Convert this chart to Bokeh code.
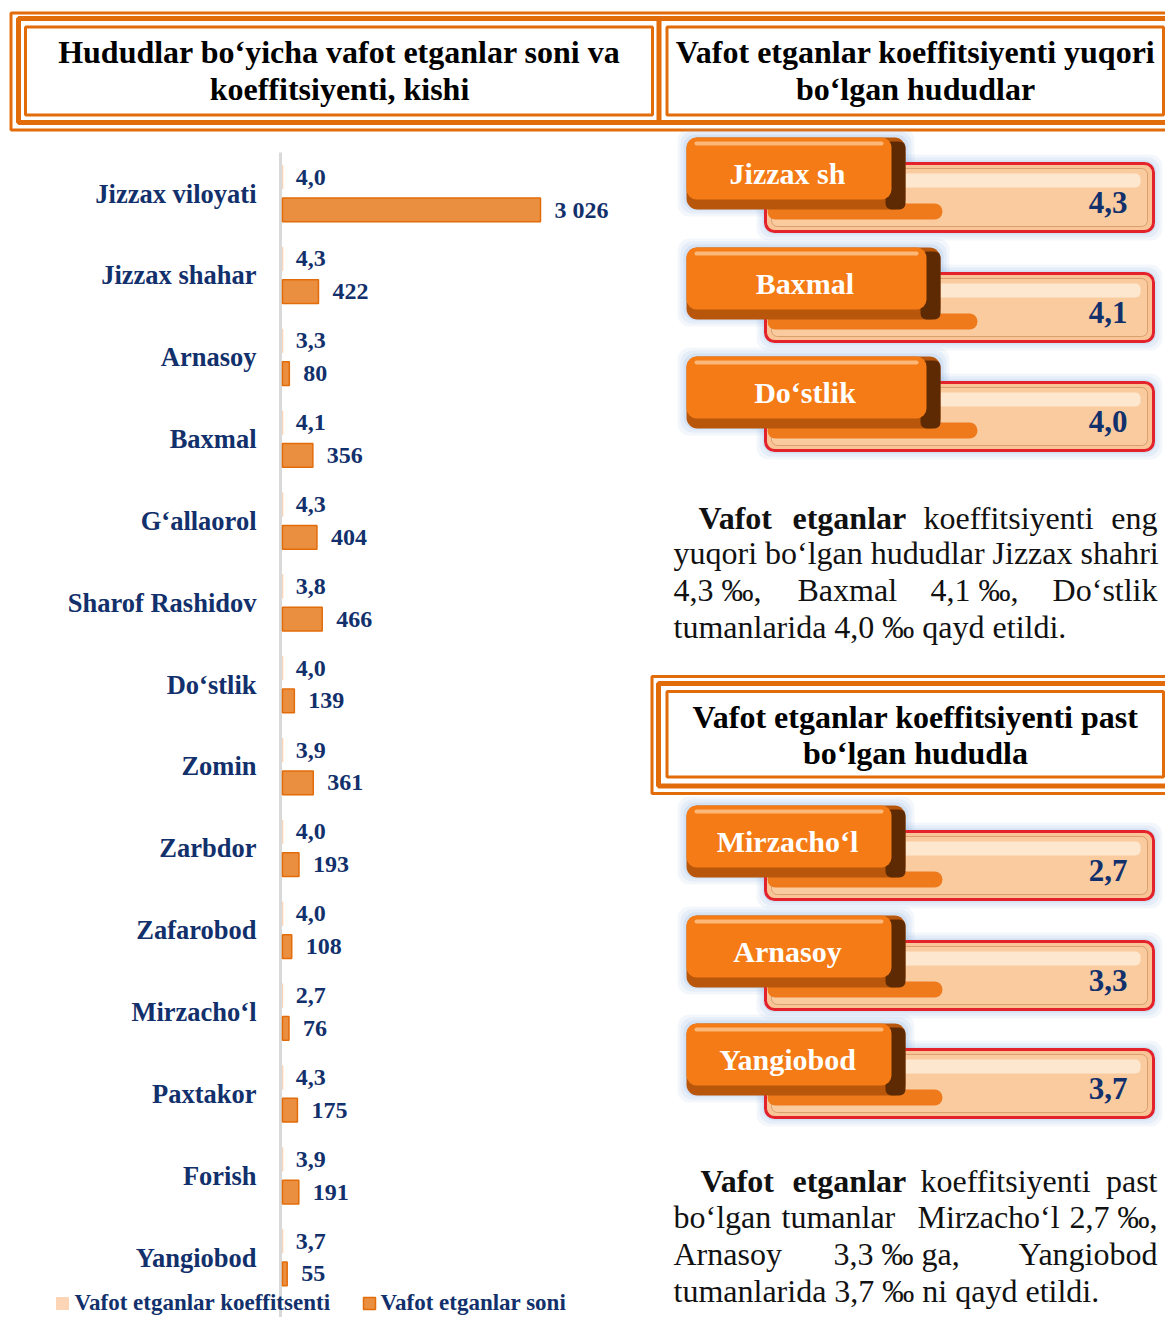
from bokeh.plotting import figure
from bokeh.models import Range1d
from bokeh.core.properties import value
from bokeh.embed import file_html
from bokeh.resources import INLINE

# ---------------- data ----------------
regions = ["Jizzax viloyati", "Jizzax shahar", "Arnasoy", "Baxmal", "G‘allaorol",
           "Sharof Rashidov", "Do‘stlik", "Zomin", "Zarbdor", "Zafarobod",
           "Mirzacho‘l", "Paxtakor", "Forish", "Yangiobod"]
deaths = [3026, 422, 80, 356, 404, 466, 139, 361, 193, 108, 76, 175, 191, 55]
coef = [4.0, 4.3, 3.3, 4.1, 4.3, 3.8, 4.0, 3.9, 4.0, 4.0, 2.7, 4.3, 3.9, 3.7]

high_names = ["Jizzax sh", "Baxmal", "Do‘stlik"]
high_vals = [4.3, 4.1, 4.0]
low_names = ["Mirzacho‘l", "Arnasoy", "Yangiobod"]
low_vals = [2.7, 3.3, 3.7]

legend_labels = ["Vafot etganlar koeffitsenti", "Vafot etganlar soni"]

# ---------------- styles ----------------
SERIF = value("Liberation Serif")
NAVY = "#12306B"
ORANGE = "#E36C0A"
BAR_FILL = "#EA8F40"
COEF_FILL = "#FBD5B5"

def fmt_int(v):
    return f"{v:,}".replace(",", " ")

def fmt_dec(v):
    return f"{v:.1f}".replace(".", ",")

W, H = 1165, 1317
p = figure(width=W, height=H, x_range=Range1d(0, W), y_range=Range1d(H, 0),
           output_backend="svg", toolbar_location=None, min_border=0,
           x_axis_location=None, y_axis_location=None)
p.grid.visible = False
p.outline_line_color = None
p.background_fill_color = "white"
p.border_fill_color = "white"

# bar chart scales (extra ranges)
X0, X1 = 282.0, 540.0
S = (X1 - X0) / max(deaths)
Y0, DY = 193.0, 81.85
p.extra_x_ranges = {"cnt": Range1d((0 - X0) / S, (W - X0) / S)}
p.extra_y_ranges = {"cat": Range1d((H - Y0) / DY, (0 - Y0) / DY)}

idx = list(range(len(regions)))

def txt(x, y, s, size, color="black", bold=True, align="center", **kw):
    p.text(x=[x], y=[y], text=[s], text_font=SERIF,
           text_font_style="bold" if bold else "normal",
           text_font_size=f"{size}px", text_color=color, text_align=align,
           text_baseline="middle", **kw)

# ---------------- header frames ----------------
def frame(l, r, t, b, lw):
    p.quad(left=[l], right=[r], top=[t], bottom=[b], fill_color=None,
           line_color=ORANGE, line_width=lw)

frame(10.5, 1180, 12.5, 129.5, 3)
frame(18, 1180, 18, 122, 5)
p.segment(x0=[658.5], y0=[18], x1=[658.5], y1=[122], line_color=ORANGE, line_width=5)
frame(25, 652, 26.5, 114.5, 3)
frame(666.5, 1163, 26.5, 114.5, 3)

txt(339, 51, "Hududlar bo‘yicha vafot etganlar soni va", 32)
txt(339, 88, "koeffitsiyenti, kishi", 32)
txt(915, 51, "Vafot etganlar koeffitsiyenti yuqori", 32)
txt(915, 88, "bo‘lgan hududlar", 32)

frame(651.5, 1180, 676, 793, 3)
frame(658, 1180, 683, 785.5, 5)
frame(666.5, 1163, 691, 776.5, 3)
txt(915, 716, "Vafot etganlar koeffitsiyenti past", 32)
txt(915, 752, "bo‘lgan hududla", 32)

# ---------------- bar chart ----------------
p.segment(x0=[280], y0=[152], x1=[280], y1=[1317], line_color="#D9D9D9", line_width=3)

p.hbar(y=[i - 0.2 for i in idx], left=0, right=coef, height=0.29,
       fill_color=COEF_FILL, line_color=COEF_FILL,
       x_range_name="cnt", y_range_name="cat")
p.hbar(y=[i + 0.2 for i in idx], left=0, right=deaths, height=0.29,
       fill_color=BAR_FILL, line_color=ORANGE, line_width=1.5,
       x_range_name="cnt", y_range_name="cat")

p.text(x=[256] * len(idx), y=[Y0 + DY * i for i in idx], text=regions,
       text_font=SERIF, text_font_style="bold", text_font_size="26.5px",
       text_color=NAVY, text_align="right", text_baseline="middle")
p.text(x=coef, y=[i - 0.2 for i in idx], text=[fmt_dec(v) for v in coef],
       x_offset=13, text_font=SERIF, text_font_style="bold", text_font_size="24px",
       text_color=NAVY, text_align="left", text_baseline="middle",
       x_range_name="cnt", y_range_name="cat")
p.text(x=deaths, y=[i + 0.2 for i in idx], text=[fmt_int(v) for v in deaths],
       x_offset=14, text_font=SERIF, text_font_style="bold", text_font_size="24px",
       text_color=NAVY, text_align="left", text_baseline="middle",
       x_range_name="cnt", y_range_name="cat")

# legend
p.scatter(x=[62], y=[1303], marker="square", size=12, fill_color=COEF_FILL, line_color=COEF_FILL)
txt(74, 1302, legend_labels[0], 23, NAVY, align="left")
p.scatter(x=[369], y=[1303], marker="square", size=12, fill_color=BAR_FILL, line_color=ORANGE, line_width=1.5)
txt(380, 1302, legend_labels[1], 23, NAVY, align="left")

# ---------------- 3D pills ----------------
def pill(T, tab_right, name, val):
    # glow
    for e, a in [(9, 0.10), (6, 0.14), (3, 0.18)]:
        p.quad(left=[765 - e], right=[1153 + e], top=[T + 26 - e], bottom=[T + 94 + e],
               fill_color="#8DB4E2", fill_alpha=a, line_color=None, border_radius=12)
        p.quad(left=[686 - e], right=[tab_right + e], top=[T - e], bottom=[T + 70 + e],
               fill_color="#8DB4E2", fill_alpha=a, line_color=None, border_radius=12)
    # red box
    p.quad(left=[765], right=[1153], top=[T + 26], bottom=[T + 94],
           fill_color="#F9C596", line_color="#E4222B", line_width=3, border_radius=9)
    p.quad(left=[771], right=[1147], top=[T + 31], bottom=[T + 89],
           fill_color="#FACB9F", line_color="#D8A070", line_width=1, border_radius=6)
    p.quad(left=[900], right=[1140], top=[T + 36], bottom=[T + 50],
           fill_color="#FDE7CF", line_color=None, border_radius=5)
    # strip under tab
    p.quad(left=[767], right=[tab_right + 37], top=[T + 66], bottom=[T + 82],
           fill_color="#EE7A1C", line_color=None, border_radius=8)
    # tab
    p.quad(left=[686], right=[tab_right], top=[T], bottom=[T + 72],
           fill_color="#B8570C", line_color=None, border_radius=11)
    p.quad(left=[tab_right - 20], right=[tab_right], top=[T + 4], bottom=[T + 72],
           fill_color="#5E2A04", line_color=None, border_radius=6)
    p.quad(left=[686], right=[tab_right - 14], top=[T], bottom=[T + 62],
           fill_color="#F47B15", line_color=None, border_radius=10)
    p.quad(left=[694], right=[tab_right - 22], top=[T + 4], bottom=[T + 8],
           fill_color="#FBB878", line_color=None, border_radius=2)
    txt((686 + tab_right - 17) / 2, T + 36, name, 30, "white")
    txt(1127, T + 65, fmt_dec(val), 31, NAVY, align="right")

tops_high = [137, 247, 356]
rights_high = [905, 940, 940]
for T, r, n, v in zip(tops_high, rights_high, high_names, high_vals):
    pill(T, r, n, v)

tops_low = [805, 915, 1023]
rights_low = [905, 905, 905]
for T, r, n, v in zip(tops_low, rights_low, low_names, low_vals):
    pill(T, r, n, v)

# ---------------- paragraphs ----------------
FS = 32
def w(x, y, s, bold=False, align="left"):
    txt(x, y, s, FS, "#111111", bold=bold, align=align)

w(698, 517, "Vafot", True)
w(792, 517, "etganlar", True)
w(923, 517, "koeffitsiyenti")
w(1157, 517, "eng", align="right")
w(673, 552, "yuqori bo‘lgan hududlar Jizzax shahri")
w(673, 589, "4,3 ‰,")
w(797, 589, "Baxmal")
w(930, 589, "4,1 ‰,")
w(1157, 589, "Do‘stlik", align="right")
w(673, 626, "tumanlarida 4,0 ‰ qayd etildi.")

w(700, 1180, "Vafot", True)
w(792, 1180, "etganlar", True)
w(920, 1180, "koeffitsiyenti")
w(1157, 1180, "past", align="right")
w(673, 1216, "bo‘lgan")
w(781, 1216, "tumanlar")
w(917, 1216, "Mirzacho‘l")
w(1157, 1216, "2,7 ‰,", align="right")
w(673, 1253, "Arnasoy")
w(833, 1253, "3,3 ‰ ga,")
w(1157, 1253, "Yangiobod", align="right")
w(673, 1290, "tumanlarida 3,7 ‰ ni qayd etildi.")

open("out.html", "w").write(file_html(p, INLINE))
